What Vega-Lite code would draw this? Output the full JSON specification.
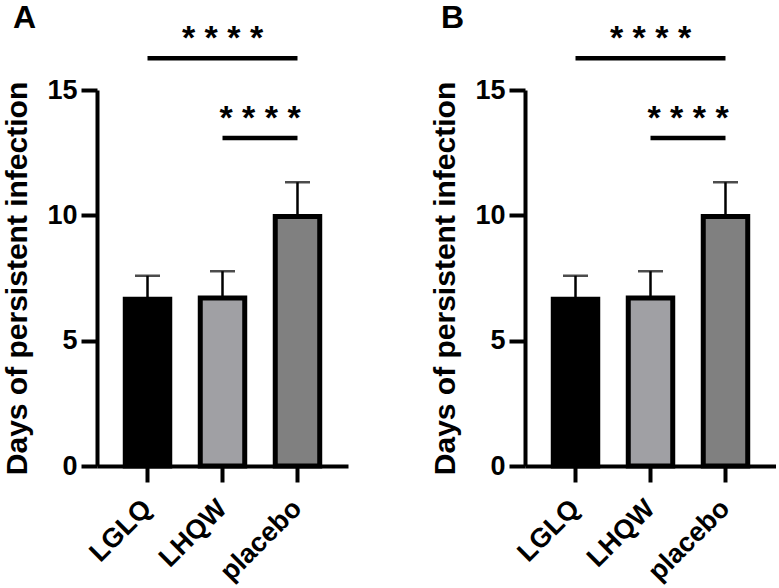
{
  "$schema": "https://vega.github.io/schema/vega-lite/v6.json",
  "padding": {"left": 2, "top": 1, "right": 0, "bottom": 0},
  "background": "white",
  "datasets": {
    "bars": [
      {"group": "LGLQ", "mean": 6.65, "upper": 7.59},
      {"group": "LHQW", "mean": 6.7, "upper": 7.77},
      {"group": "placebo", "mean": 9.95, "upper": 11.32}
    ],
    "sig": [
      {"pair": "all", "from": "LGLQ", "to": "placebo", "mid": "LHQW", "level": 16.27, "starLevel": 16.64, "label": "* * * *"},
      {"pair": "two", "from": "LHQW", "to": "placebo", "mid": "LHQW", "level": 13.09, "starLevel": 13.46, "label": "* * * *"}
    ]
  },
  "config": {
    "view": {"stroke": null},
    "font": "Liberation Sans",
    "axis": {
      "grid": false,
      "domainColor": "black",
      "domainWidth": 4,
      "tickColor": "black",
      "tickWidth": 4,
      "tickSize": 16,
      "labelFont": "Liberation Sans",
      "labelFontWeight": "bold",
      "labelFontSize": 27,
      "labelColor": "black",
      "titleFont": "Liberation Sans",
      "titleFontWeight": "bold",
      "titleFontSize": 30,
      "titleColor": "black"
    }
  },
  "spacing": 82,
  "hconcat": [
    {
      "width": 251,
      "height": 376,
      "title": {"text": "A", "anchor": "start", "frame": "bounds", "fontSize": 32, "font": "Liberation Sans", "fontWeight": "bold", "color": "black", "dx": 10, "offset": -13},
      "layer": [
        {
          "data": {"name": "bars"},
          "mark": {"type": "rule", "strokeWidth": 2.5, "color": "black"},
          "encoding": {
            "x": {"field": "group", "type": "nominal", "sort": ["LGLQ", "LHQW", "placebo"], "scale": {"domain": ["LGLQ", "LHQW", "placebo"], "paddingInner": 0.407, "paddingOuter": 0.377}, "axis": {"title": null, "labelAngle": -45, "labelAlign": "right", "labelBaseline": "middle", "labelPadding": 22}},
            "y": {"field": "mean", "type": "quantitative", "scale": {"domain": [0, 15], "nice": false}, "axis": {"title": "Days of persistent infection", "values": [0, 5, 10, 15], "labelPadding": 4, "titlePadding": 14}},
            "y2": {"field": "upper"}
          }
        },
        {
          "data": {"name": "bars"},
          "mark": {"type": "bar", "stroke": "black", "strokeWidth": 5},
          "encoding": {
            "x": {"field": "group", "type": "nominal"},
            "y": {"field": "mean", "type": "quantitative"},
            "color": {"field": "group", "type": "nominal", "scale": {"domain": ["LGLQ", "LHQW", "placebo"], "range": ["#000000", "#a0a0a4", "#808080"]}, "legend": null}
          }
        },
        {
          "data": {"name": "bars"},
          "mark": {"type": "tick", "size": 25, "thickness": 2.5, "color": "black"},
          "encoding": {
            "x": {"field": "group", "type": "nominal"},
            "y": {"field": "upper", "type": "quantitative"}
          }
        },
        {
          "data": {"name": "sig"},
          "mark": {"type": "rule", "strokeWidth": 4.5, "color": "black"},
          "encoding": {
            "x": {"field": "from", "type": "nominal"},
            "x2": {"field": "to"},
            "y": {"field": "level", "type": "quantitative"}
          }
        },
        {
          "data": {"name": "sig"},
          "transform": [{"filter": "datum.pair == 'all'"}],
          "mark": {"type": "text", "fontSize": 34, "fontWeight": "bold", "font": "Liberation Sans", "color": "black", "baseline": "alphabetic", "align": "center"},
          "encoding": {
            "x": {"field": "mid", "type": "nominal"},
            "y": {"field": "starLevel", "type": "quantitative"},
            "text": {"field": "label"}
          }
        },
        {
          "data": {"name": "sig"},
          "transform": [{"filter": "datum.pair == 'two'"}],
          "mark": {"type": "text", "fontSize": 34, "fontWeight": "bold", "font": "Liberation Sans", "color": "black", "baseline": "alphabetic", "align": "center", "dx": 37.5},
          "encoding": {
            "x": {"field": "mid", "type": "nominal"},
            "y": {"field": "starLevel", "type": "quantitative"},
            "text": {"field": "label"}
          }
        }
      ]
    },
    {
      "width": 251,
      "height": 376,
      "title": {"text": "B", "anchor": "start", "frame": "bounds", "fontSize": 32, "font": "Liberation Sans", "fontWeight": "bold", "color": "black", "dx": 10, "offset": -13},
      "layer": [
        {
          "data": {"name": "bars"},
          "mark": {"type": "rule", "strokeWidth": 2.5, "color": "black"},
          "encoding": {
            "x": {"field": "group", "type": "nominal", "sort": ["LGLQ", "LHQW", "placebo"], "scale": {"domain": ["LGLQ", "LHQW", "placebo"], "paddingInner": 0.407, "paddingOuter": 0.377}, "axis": {"title": null, "labelAngle": -45, "labelAlign": "right", "labelBaseline": "middle", "labelPadding": 22}},
            "y": {"field": "mean", "type": "quantitative", "scale": {"domain": [0, 15], "nice": false}, "axis": {"title": "Days of persistent infection", "values": [0, 5, 10, 15], "labelPadding": 4, "titlePadding": 14}},
            "y2": {"field": "upper"}
          }
        },
        {
          "data": {"name": "bars"},
          "mark": {"type": "bar", "stroke": "black", "strokeWidth": 5},
          "encoding": {
            "x": {"field": "group", "type": "nominal"},
            "y": {"field": "mean", "type": "quantitative"},
            "color": {"field": "group", "type": "nominal", "scale": {"domain": ["LGLQ", "LHQW", "placebo"], "range": ["#000000", "#a0a0a4", "#808080"]}, "legend": null}
          }
        },
        {
          "data": {"name": "bars"},
          "mark": {"type": "tick", "size": 25, "thickness": 2.5, "color": "black"},
          "encoding": {
            "x": {"field": "group", "type": "nominal"},
            "y": {"field": "upper", "type": "quantitative"}
          }
        },
        {
          "data": {"name": "sig"},
          "mark": {"type": "rule", "strokeWidth": 4.5, "color": "black"},
          "encoding": {
            "x": {"field": "from", "type": "nominal"},
            "x2": {"field": "to"},
            "y": {"field": "level", "type": "quantitative"}
          }
        },
        {
          "data": {"name": "sig"},
          "transform": [{"filter": "datum.pair == 'all'"}],
          "mark": {"type": "text", "fontSize": 34, "fontWeight": "bold", "font": "Liberation Sans", "color": "black", "baseline": "alphabetic", "align": "center"},
          "encoding": {
            "x": {"field": "mid", "type": "nominal"},
            "y": {"field": "starLevel", "type": "quantitative"},
            "text": {"field": "label"}
          }
        },
        {
          "data": {"name": "sig"},
          "transform": [{"filter": "datum.pair == 'two'"}],
          "mark": {"type": "text", "fontSize": 34, "fontWeight": "bold", "font": "Liberation Sans", "color": "black", "baseline": "alphabetic", "align": "center", "dx": 37.5},
          "encoding": {
            "x": {"field": "mid", "type": "nominal"},
            "y": {"field": "starLevel", "type": "quantitative"},
            "text": {"field": "label"}
          }
        }
      ]
    }
  ]
}
